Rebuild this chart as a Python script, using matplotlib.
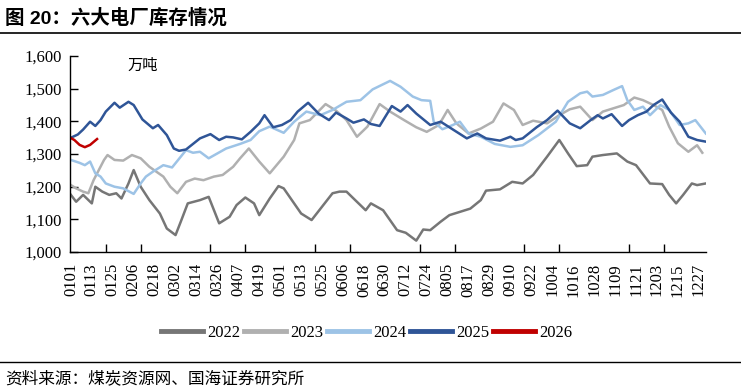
import matplotlib
matplotlib.use("Agg")
import matplotlib.pyplot as plt
from matplotlib.lines import Line2D
from matplotlib.ticker import MultipleLocator

# tick labels (every 12 days, day-of-year index starting at 0 = Jan 1)
tick_labels = ["0101", "0113", "0125", "0206", "0218", "0302", "0314", "0326",
               "0407", "0419", "0501", "0513", "0525", "0606", "0618", "0630",
               "0712", "0724", "0805", "0817", "0829", "0910", "0922", "1004",
               "1016", "1028", "1109", "1121", "1203", "1215", "1227"]

# inventory, 10k tonnes (day index, value)
days_2022 = [0, 3, 7, 12, 14, 18, 22, 26, 29, 33, 36, 40, 45, 51, 55, 60, 63, 67, 74, 79,
             85, 91, 95, 100, 105, 108, 114, 119, 122, 132, 138, 144, 150, 154, 158, 163,
             169, 172, 179, 187, 192, 198, 202, 206, 212, 217, 223, 229, 235, 238, 246,
             253, 259, 265, 273, 280, 285, 290, 296, 299, 305, 313, 319, 324, 332, 339,
             343, 347, 351, 356, 359, 364]
vals_2022 = [1175, 1154, 1175, 1149, 1200, 1185, 1175, 1180, 1164, 1210, 1251, 1200, 1159,
             1118, 1072, 1052, 1093, 1149, 1159, 1169, 1088, 1108, 1144, 1167, 1149, 1113,
             1164, 1202, 1195, 1118, 1098, 1139, 1180, 1185, 1185, 1159, 1128, 1149, 1128,
             1067, 1059, 1035, 1069, 1067, 1093, 1113, 1123, 1133, 1159, 1188, 1192, 1215,
             1210, 1236, 1292, 1343, 1302, 1263, 1266, 1292, 1297, 1302, 1277, 1266, 1210,
             1208, 1175, 1149, 1175, 1210, 1205, 1210]

days_2023 = [0, 3, 7, 10, 13, 16, 19, 21, 25, 30, 35, 40, 45, 49, 53, 57, 61, 66, 71, 76,
             82, 87, 93, 97, 102, 108, 114, 122, 128, 131, 137, 146, 152, 158, 164, 170,
             177, 183, 191, 198, 204, 211, 216, 221, 228, 235, 242, 248, 254, 259, 265,
             273, 280, 286, 292, 299, 305, 311, 317, 323, 328, 334, 339, 343, 348, 354,
             359, 362]
vals_2023 = [1205, 1195, 1185, 1180, 1220, 1251, 1282, 1297, 1282, 1280, 1297, 1287, 1261,
             1246, 1231, 1200, 1180, 1215, 1225, 1220, 1231, 1236, 1261, 1287, 1317, 1277,
             1241, 1292, 1343, 1394, 1404, 1453, 1433, 1404, 1353, 1384, 1453, 1430, 1404,
             1382, 1368, 1389, 1435, 1394, 1363, 1378, 1399, 1455, 1435, 1389, 1402, 1394,
             1419, 1437, 1445, 1404, 1430, 1440, 1450, 1473, 1465, 1450, 1435, 1384, 1333,
             1307, 1327, 1304]

days_2024 = [0, 5, 8, 11, 14, 17, 20, 25, 30, 36, 40, 43, 47, 53, 58, 63, 66, 70, 74, 79,
             84, 89, 97, 103, 108, 114, 122, 128, 135, 143, 150, 158, 166, 173, 183, 189,
             196, 201, 206, 208, 213, 219, 223, 228, 235, 243, 252, 259, 268, 278, 285,
             292, 296, 299, 305, 311, 316, 319, 323, 328, 332, 338, 343, 349, 354, 358, 364]
vals_2024 = [1282, 1273, 1266, 1277, 1241, 1231, 1210, 1200, 1195, 1178, 1210, 1231, 1246,
             1266, 1259, 1292, 1312, 1304, 1307, 1287, 1302, 1317, 1331, 1343, 1370, 1384,
             1365, 1399, 1430, 1419, 1435, 1460, 1465, 1498, 1524, 1506, 1476, 1465, 1463,
             1399, 1376, 1389, 1399, 1363, 1353, 1331, 1322, 1327, 1358, 1399, 1460, 1486,
             1491, 1476, 1481, 1496, 1508, 1465, 1435, 1445, 1419, 1450, 1435, 1389, 1394,
             1404, 1363]

days_2025 = [0, 4, 7, 11, 14, 17, 20, 25, 28, 33, 36, 41, 47, 50, 55, 59, 62, 66, 74, 80,
             85, 89, 93, 98, 103, 108, 111, 116, 121, 126, 130, 136, 142, 148, 152, 158,
             162, 168, 172, 177, 184, 189, 193, 198, 206, 212, 217, 227, 233, 238, 246,
             252, 255, 259, 267, 273, 279, 286, 292, 298, 302, 305, 310, 316, 320, 325,
             330, 334, 339, 344, 349, 354, 359, 364]
vals_2025 = [1350, 1360, 1375, 1399, 1386, 1404, 1430, 1457, 1442, 1460, 1450, 1406, 1379,
             1389, 1358, 1317, 1310, 1314, 1348, 1361, 1343, 1353, 1351, 1345, 1368, 1394,
             1419, 1382, 1389, 1404, 1430, 1457, 1424, 1404, 1427, 1409, 1396, 1406, 1392,
             1386, 1447, 1430, 1450, 1424, 1389, 1399, 1382, 1348, 1363, 1348, 1341, 1353,
             1343, 1348, 1382, 1404, 1433, 1394, 1379, 1404, 1419, 1409, 1422, 1386, 1404,
             1419, 1430, 1450, 1467, 1427, 1399, 1353, 1343, 1338]

days_2026 = [0, 2, 5, 8, 11, 15]
vals_2026 = [1349, 1343, 1328, 1321, 1328, 1346]

series = [
    ("2022", days_2022, vals_2022, "#767676"),
    ("2023", days_2023, vals_2023, "#b0b0b0"),
    ("2024", days_2024, vals_2024, "#9dc3e6"),
    ("2025", days_2025, vals_2025, "#2f5597"),
    ("2026", days_2026, vals_2026, "#c00000"),
]

cjk = ["Noto Sans CJK SC", "DejaVu Sans"]
plt.rcParams["font.family"] = ["Liberation Serif", "Noto Sans CJK SC"]

fig = plt.figure(figsize=(7.41, 3.92), dpi=100)
ax = fig.add_axes([0.0945, 0.357, 0.858, 0.5])

for name, d, v, c in series:
    ax.plot(d, v, color=c, lw=1.8, label=name, solid_joinstyle="round")

ax.set_ylim(1000, 1600)
ax.set_xlim(-0.5, 364)
ax.yaxis.set_major_locator(MultipleLocator(100))
ax.yaxis.set_major_formatter(matplotlib.ticker.FuncFormatter(lambda y, p: f"{int(y):,}"))

ax.set_xticks([12 * i for i in range(len(tick_labels))])
ax.set_xticklabels(tick_labels, rotation=90, fontsize=12)
ax.set_xticks(list(range(20, 364, 20)), minor=True)
ax.tick_params(axis="x", which="major", length=0, pad=8)
ax.tick_params(axis="x", which="minor", direction="in", length=6, width=1)
ax.tick_params(axis="y", direction="in", length=6, width=1, labelsize=12, pad=6)

for s in ["top", "right"]:
    ax.spines[s].set_visible(False)
ax.spines["left"].set_linewidth(1.0)
ax.spines["bottom"].set_linewidth(1.0)

ax.text(0.09, 0.93, "万吨", transform=ax.transAxes, fontsize=11, family=cjk)

leg = fig.legend(loc="center", bbox_to_anchor=(0.495, 0.15), ncol=5, frameon=False,
                 fontsize=12, handlelength=2.5, handletextpad=0.25, columnspacing=0.25)
for line in leg.get_lines():
    line.set_linewidth(3.5)

fig.text(0.007, 0.955, "图 20：六大电厂库存情况", fontsize=14, fontweight="bold",
         family=["Liberation Sans", "Noto Sans CJK SC"], va="center")
fig.add_artist(Line2D([0, 1], [0.915, 0.915], color="black", lw=1.2))
fig.add_artist(Line2D([0, 1], [0.077, 0.077], color="black", lw=1.0))
fig.text(0.007, 0.035, "资料来源：煤炭资源网、国海证券研究所", fontsize=12, family=cjk, va="center")

fig.savefig("out.png", dpi=100)
